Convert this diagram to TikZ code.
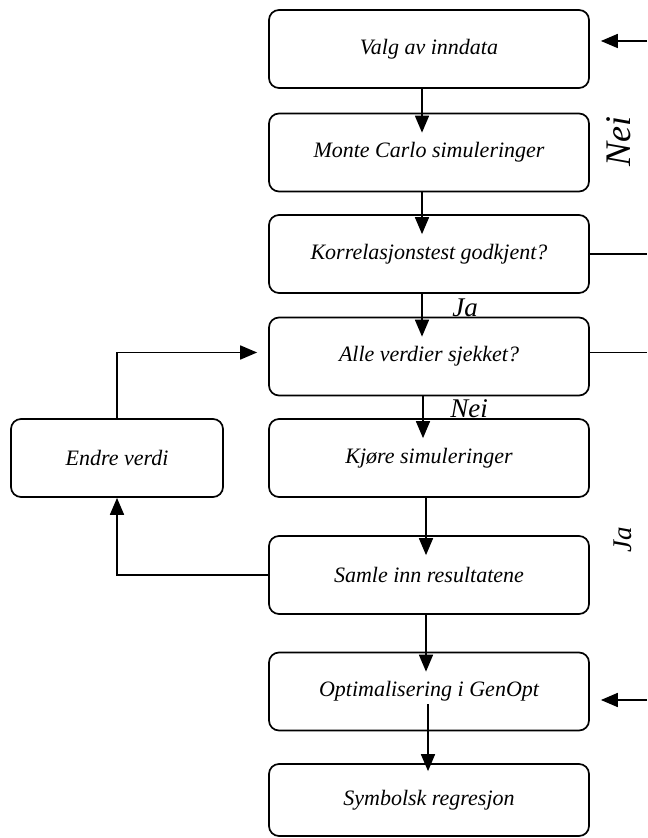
\documentclass[tikz,border=0pt]{standalone}
\usepackage{fontspec}
\setmainfont{Liberation Serif}
\usetikzlibrary{arrows.meta}
\begin{document}
\begin{tikzpicture}[x=0.5pt, y=-0.5pt, line width=0.85pt, >={Triangle[width=7pt,length=8.5pt]},
  every node/.style={font=\itshape\fontsize{11}{13}\selectfont},
  box/.style={draw, rounded corners=5pt, minimum width=160pt, minimum height=39pt},
  lbl/.style={font=\itshape\fontsize{13.5}{15}\selectfont}]

\useasboundingbox (0,0) rectangle (647,838);

\node[box] (valg)  at (429,49)    {Valg av inndata};
\node[box] (monte) at (429,152.5) {Monte Carlo simuleringer};
\node[box] (korr)  at (429,254)   {Korrelasjonstest godkjent?};
\node[box] (alle)  at (429,356.5) {Alle verdier sjekket?};
\node[box] (kjore) at (429,458)   {Kjøre simuleringer};
\node[box] (samle) at (429,575)   {Samle inn resultatene};
\node[box] (opt)   at (429,691.5) {Optimalisering i GenOpt};
\node[box, minimum height=36pt] (symb) at (429,800) {Symbolsk regresjon};
\node[box, minimum width=106pt] (endre) at (117,458) {Endre verdi};

\node[lbl] (ja1)  at (465,308) {Ja};
\node[lbl] (nei1) at (469,409) {Nei};
\node[lbl, rotate=90, font=\itshape\fontsize{18}{20}\selectfont] (nei2) at (619,142) {Nei};
\node[lbl, rotate=90] (ja2)  at (623,540) {Ja};

\coordinate (inn1) at (647,41);
\coordinate (inn7) at (647,700);

\draw[->, shorten >=-10pt] ([xshift=-3.5pt]valg.south)  -- ([xshift=-3.5pt]monte.north);
\draw[->, shorten >=-10pt] ([xshift=-3.5pt]monte.south) -- ([xshift=-3.5pt]korr.north);
\draw[->, shorten >=-10pt] ([xshift=-3.5pt]korr.south)  -- ([xshift=-3.5pt]alle.north);
\draw[->, shorten >=-10pt] ([xshift=-3pt]alle.south)    -- ([xshift=-3pt]kjore.north);
\draw[->, shorten >=-10pt] ([xshift=-1.5pt]kjore.south) -- ([xshift=-1.5pt]samle.north);
\draw[->, shorten >=-10pt] ([xshift=-1.5pt]samle.south) -- ([xshift=-1.5pt]opt.north);
\draw[->, shorten <=-13.5pt, shorten >=-4pt] ([xshift=-0.5pt]opt.south) -- ([xshift=-0.5pt]symb.north);

\draw[->, shorten >=5.5pt] (inn1) -- (inn1 -| valg.east);
\draw (korr.east) -- (korr.east -| inn1);
\draw ([yshift=2pt]alle.east) -- ([yshift=2pt]alle.east -| inn1);
\draw[->, shorten >=5.5pt] (inn7) -- (inn7 -| opt.east);

\draw[->, shorten >=5.5pt] (endre.north) |- ([yshift=2pt]alle.west);
\draw[->] (samle.west) -| (endre.south);

\end{tikzpicture}
\end{document}
